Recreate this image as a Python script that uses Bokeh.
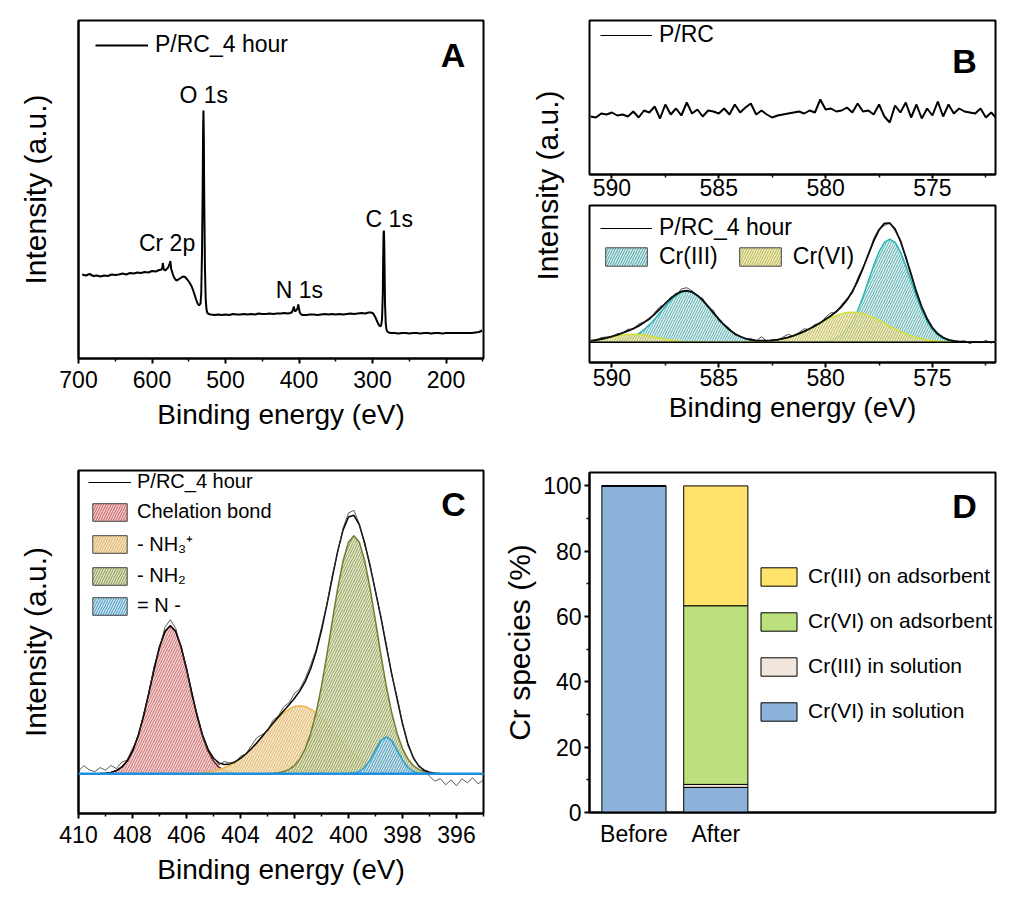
from math import pi
from bokeh.plotting import figure
from bokeh.models import (Range1d, Label, Legend, LegendItem, FixedTicker,
                          ColumnDataSource, Span, Spacer)
from bokeh.layouts import row, column
from bokeh.embed import file_html
from bokeh.resources import INLINE
from bokeh.core.properties import value

FONT = "Liberation Sans"
NAN = float("nan")

# ---------------- Panel A : survey spectrum ----------------
survey = [(695, 84), (690, 83), (685, 84.5), (680, 82.5), (675, 83), (670, 82), (665, 83), (660, 82.5),
          (655, 84), (650, 83.5), (645, 84), (640, 85), (635, 84), (630, 85.5), (625, 85), (620, 86),
          (615, 85.5), (610, 86.5), (605, 86), (600, 87.5), (595, 87), (590, 88.5), (587, 89), (586, 91),
          (585.3, 95.5), (584, 89), (582, 88), (580, 89.5), (578, 91), (576, 95), (575, 97.5), (574, 90),
          (572, 85), (570, 81), (567, 78), (564, 79), (561, 80.5), (558, 82), (555, 81.5), (552, 79),
          (549, 76), (546, 72), (543, 66), (540, 59), (538, 55), (536, 53), (534, 55), (533, 65),
          (532, 105), (531, 175), (530.5, 228), (530, 248), (529.5, 222), (529, 165), (528, 92), (527, 60),
          (526, 50), (525, 46), (523, 44.5), (520, 44), (515, 43.5), (510, 44), (505, 43.5), (500, 44),
          (495, 43.5), (490, 44.5), (485, 44), (480, 44), (475, 44.5), (470, 44), (465, 44.5), (460, 44),
          (455, 45), (450, 44.5), (445, 44.5), (440, 45), (435, 44.5), (430, 45), (425, 45), (420, 45.5),
          (415, 45), (412, 45.5), (410, 46), (408, 49), (407, 52), (406, 48), (405, 47), (404, 48),
          (402, 50), (401, 54), (400, 50), (399, 46), (397, 44), (395, 43.5), (390, 43.5), (385, 44),
          (380, 44), (375, 43.5), (370, 44), (365, 44.5), (360, 44), (355, 44.5), (350, 44), (345, 44.5),
          (340, 44), (335, 44.5), (330, 45), (325, 44.5), (320, 45), (315, 45.5), (310, 45), (305, 46),
          (302, 46), (299, 45), (296, 41), (293, 36), (291, 33), (289, 32), (288, 34), (287, 40),
          (286, 65), (285.5, 100), (285, 125), (284.5, 128), (284, 115), (283.5, 85), (283, 55), (282, 35),
          (281, 29), (280, 27), (278, 26), (275, 25.5), (270, 25.5), (265, 25), (260, 25.5), (255, 25.5),
          (250, 25), (245, 25.5), (240, 25.5), (235, 25), (230, 25.5), (225, 25.5), (220, 25), (215, 25.5),
          (210, 25.5), (205, 25), (200, 25.5), (195, 25.5), (190, 25.5), (185, 25.5), (180, 25.5),
          (175, 25.5), (170, 25.5), (165, 25.5), (160, 26), (155, 26.5), (151, 28)]
survey_be = [a for a, _ in survey]
survey_int = [b for _, b in survey]
survey_peak_names = ["Cr 2p", "O 1s", "N 1s", "C 1s"]
survey_peak_be = [579.5, 529.7, 399.5, 277.2]
survey_peak_int = [116, 264, 69, 140]
survey_ticks = [700, 600, 500, 400, 300, 200]
survey_minor = [650, 550, 450, 350, 250, 150]

# ---------------- Panel B : Cr 2p ----------------
cr_be = [591.00, 590.75, 590.50, 590.25, 590.00, 589.75, 589.50, 589.25, 589.00, 588.75, 588.50,
         588.25, 588.00, 587.75, 587.50, 587.25, 587.00, 586.75, 586.50, 586.25, 586.00, 585.75,
         585.50, 585.25, 585.00, 584.75, 584.50, 584.25, 584.00, 583.75, 583.50, 583.25, 583.00,
         582.75, 582.50, 582.25, 582.00, 581.75, 581.50, 581.25, 581.00, 580.75, 580.50, 580.25,
         580.00, 579.75, 579.50, 579.25, 579.00, 578.75, 578.50, 578.25, 578.00, 577.75, 577.50,
         577.25, 577.00, 576.75, 576.50, 576.25, 576.00, 575.75, 575.50, 575.25, 575.00, 574.75,
         574.50, 574.25, 574.00, 573.75, 573.50, 573.25, 573.00, 572.75, 572.50, 572.25, 572.00]
cr_prc = [58, 57, 61, 60, 62, 59, 60, 58, 63, 57, 64, 62, 68, 56, 70, 60, 66, 59, 72, 61,
          65, 58, 64, 63, 61, 66, 60, 70, 62, 67, 71, 60, 64, 60, 57, 59, 60, 61, 62, 63,
          61, 64, 62, 75, 65, 66, 63, 64, 67, 62, 71, 63, 64, 60, 70, 58, 52, 69, 62, 72,
          57, 70, 56, 66, 59, 73, 58, 70, 61, 66, 63, 62, 61, 66, 57, 62, 56]
cr_raw = [1.9, 1.2, 4.7, 5.2, 5.2, 8.6, 8.9, 13.1, 12.7, 18.3, 20.2, 22.3, 29.6, 35.6, 38.0, 44.9,
          46.6, 53.2, 54.5, 51.4, 46.3, 43.7, 34.8, 31.8, 21.4, 18.1, 13.9, 7.3, 6.3, 2.9, 3.8, 1.2,
          5.5, 1.0, 2.7, 1.6, 5.1, 7.8, 6.1, 9.7, 13.4, 12.6, 17.8, 18.4, 25.1, 29.4, 29.5, 37.7,
          43.8, 48.7, 64.1, 75.0, 86.4, 103.8, 113.3, 116.6, 119.6, 111.3, 102.8, 84.3, 69.6, 49.1,
          36.0, 24.7, 13.8, 9.4, 3.9, 3.0, -0.2, 1.0, 1.5, -1.5, 0.8, -0.5, 1.8, -0.9, 2.2]
cr_fit = [1.4, 2.2, 3.2, 4.4, 5.8, 7.4, 9.3, 11.3, 13.6, 16.3, 19.6, 23.5, 28.1, 33.4, 38.8, 43.9,
          48.1, 50.7, 51.5, 50.2, 46.8, 41.9, 35.8, 29.4, 23.0, 17.3, 12.4, 8.5, 5.7, 3.7, 2.4, 1.7,
          1.5, 1.6, 1.9, 2.6, 3.5, 4.8, 6.5, 8.5, 10.8, 13.4, 16.3, 19.4, 22.9, 26.4, 30.7, 35.7,
          42.3, 50.7, 61.3, 74.0, 87.9, 101.3, 112.3, 118.8, 119.1, 113.1, 101.2, 85.3, 67.6, 50.3,
          35.2, 23.2, 14.4, 8.4, 4.7, 2.4, 1.3, 0.6, 0.3, 0.1, 0, 0, 0, 0, 0]
cr_iii = [0, 0.1, 0.2, 0.4, 0.7, 1.2, 2.1, 3.5, 5.6, 8.5, 12.4, 17.3, 23.0, 29.4, 35.8, 41.8, 46.7,
          49.9, 51.0, 49.9, 46.7, 41.8, 35.8, 29.4, 23.0, 17.3, 12.4, 8.5, 5.6, 3.5, 2.1, 1.2, 0.7,
          0.4, 0.2, 0.1, 0, 0, 0, 0, 0, 0.1, 0.2, 0.4, 1.0, 1.9, 3.9, 7.2, 12.7, 20.7, 31.7, 45.5,
          61.1, 76.8, 90.4, 99.8, 103.0, 99.8, 90.4, 76.8, 61.1, 45.5, 31.7, 20.7, 12.7, 7.2, 3.9,
          1.9, 1.0, 0.4, 0.2, 0.1, 0, 0, 0, 0, 0]
cr_vi = [1.4, 2.1, 3.0, 4.0, 5.1, 6.2, 7.2, 7.8, 8.0, 7.8, 7.2, 6.2, 5.1, 4.0, 3.0, 2.1, 1.4, 0.8,
         0.5, 0.3, 0.1, 0.1, 0, 0, 0, 0, 0, 0, 0.1, 0.2, 0.3, 0.5, 0.8, 1.2, 1.7, 2.5, 3.5, 4.8,
         6.5, 8.5, 10.8, 13.3, 16.1, 19.0, 21.9, 24.5, 26.8, 28.5, 29.6, 30.0, 29.6, 28.5, 26.8,
         24.5, 21.9, 19.0, 16.1, 13.3, 10.8, 8.5, 6.5, 4.8, 3.5, 2.5, 1.7, 1.2, 0.8, 0.5, 0.3, 0.2,
         0.1, 0, 0, 0, 0, 0, 0]
cr_ticks = [590, 585, 580, 575]
cr_minor = [587.5, 582.5, 577.5, 572.5]

# ---------------- Panel C : N 1s ----------------
n_be = [410.0, 409.8, 409.6, 409.4, 409.2, 409.0, 408.8, 408.6, 408.4, 408.2, 408.0, 407.8, 407.6,
        407.4, 407.2, 407.0, 406.8, 406.6, 406.4, 406.2, 406.0, 405.8, 405.6, 405.4, 405.2, 405.0,
        404.8, 404.6, 404.4, 404.2, 404.0, 403.8, 403.6, 403.4, 403.2, 403.0, 402.8, 402.6, 402.4,
        402.2, 402.0, 401.8, 401.6, 401.4, 401.2, 401.0, 400.8, 400.6, 400.4, 400.2, 400.0, 399.8,
        399.6, 399.4, 399.2, 399.0, 398.8, 398.6, 398.4, 398.2, 398.0, 397.8, 397.6, 397.4, 397.2,
        397.0, 396.8, 396.6, 396.4, 396.2, 396.0, 395.8, 395.6, 395.4, 395.2, 395.0]
n_raw = [3, 8, 4, 2.1, 6.2, 3.6, 8.4, 5.2, 11.6, 13.7, 25.6, 35.2, 58.7, 79.1, 107.8, 124.9, 146.4,
         154.1, 145.5, 125.1, 106.1, 77.6, 59.5, 37.5, 22.5, 16.6, 8.9, 12.3, 10.9, 11.1, 17.5, 19.9,
         28.1, 35.9, 39.3, 42.8, 53.5, 57.8, 67.1, 71.1, 80.5, 84.9, 95.4, 109.1, 124.1, 146.5, 170.0,
         198.3, 221.7, 245.9, 260.8, 263.5, 250.1, 228.8, 209.6, 181.5, 157.4, 129.6, 99, 77, 51, 28,
         17, 7, 4.5, -2.5, -7.4, -4.8, -11, -6, -12, -5, -9, -4, -10, -6]
n_fit = [0, 0, 0, 0.1, 0.2, 0.6, 1.4, 3.2, 6.6, 12.7, 22.6, 37.2, 56.7, 80.1, 104.8, 126.9, 142.4,
         148.1, 142.5, 127.1, 105.1, 80.6, 57.5, 38.5, 24.5, 15.6, 10.9, 9.3, 9.9, 12.1, 15.5, 19.9,
         25.1, 30.9, 37.3, 43.8, 50.5, 56.8, 63.1, 69.1, 75.5, 82.9, 92.4, 105.1, 122.1, 143.5, 169.0,
         196.3, 222.7, 243.9, 256.8, 258.5, 249.1, 230.8, 207.6, 182.5, 156.4, 127.6, 100.0, 75.0,
         50.0, 30.0, 16.0, 8.0, 3.5, 1.5, 0.6, 0.2, 0.1, 0, 0, 0, 0, 0, 0, 0]
n_chel = [0, 0, 0, 0.1, 0.2, 0.6, 1.4, 3.2, 6.6, 12.7, 22.6, 37.2, 56.7, 80.1, 104.8, 126.9, 142.4,
          148, 142.4, 126.9, 104.8, 80.1, 56.7, 37.2, 22.6, 12.7, 6.6, 3.2, 1.4, 0.6, 0.2, 0.1,
          0, 0, 0, 0, 0, 0, 0, 0, 0, 0, 0, 0, 0, 0, 0, 0, 0, 0, 0, 0, 0, 0, 0, 0, 0, 0, 0, 0, 0, 0,
          0, 0, 0, 0, 0, 0, 0, 0, 0, 0, 0, 0, 0, 0]
n_nh3 = [0, 0, 0, 0, 0, 0, 0, 0, 0, 0, 0, 0, 0, 0, 0, 0, 0, 0.1, 0.1, 0.2, 0.3, 0.5, 0.8, 1.3, 1.9,
         2.9, 4.3, 6.1, 8.5, 11.5, 15.3, 19.8, 25.1, 30.9, 37.2, 43.6, 50.0, 55.8, 60.9, 64.7, 67.2,
         68, 67.2, 64.7, 60.9, 55.8, 50.0, 43.6, 37.2, 30.9, 25.1, 19.8, 15.3, 11.5, 8.5, 6.1, 4.3,
         2.9, 1.9, 1.3, 0.8, 0.5, 0.3, 0.2, 0.1, 0.1, 0, 0, 0, 0, 0, 0, 0, 0, 0, 0]
n_nh2 = [0, 0, 0, 0, 0, 0, 0, 0, 0, 0, 0, 0, 0, 0, 0, 0, 0, 0, 0, 0, 0, 0, 0, 0, 0, 0, 0, 0, 0, 0,
         0, 0, 0, 0, 0.1, 0.2, 0.5, 1.0, 2.2, 4.4, 8.3, 14.9, 25.2, 40.4, 61.2, 87.7, 119.0, 152.7,
         185.5, 213.0, 231.5, 238, 231.5, 213.0, 185.5, 152.7, 119.0, 87.7, 61.2, 40.4, 25.2, 14.9,
         8.3, 4.4, 2.2, 1.0, 0.5, 0.2, 0.1, 0, 0, 0, 0, 0, 0, 0]
n_imine = [0, 0, 0, 0, 0, 0, 0, 0, 0, 0, 0, 0, 0, 0, 0, 0, 0, 0, 0, 0, 0, 0, 0, 0, 0, 0, 0, 0, 0,
           0, 0, 0, 0, 0, 0, 0, 0, 0, 0, 0, 0, 0, 0, 0, 0, 0, 0, 0, 0, 0, 0.2, 0.7, 2.3, 6.3, 13.6,
           23.7, 33.1, 37, 33.1, 23.7, 13.6, 6.3, 2.3, 0.7, 0.2, 0, 0, 0, 0, 0, 0, 0, 0, 0, 0, 0]
n_ticks = [410, 408, 406, 404, 402, 400, 398, 396]
n_minor = [409, 407, 405, 403, 401, 399, 397, 395]
n_names = ["Chelation bond", "- NH\u2083\u207A", "- NH\u2082", "= N -"]

# ---------------- Panel D : Cr species ----------------
stage_pos = [1, 2]
stage_labels = ["Before", "After"]
vi_sol = [100, 7.7]
iii_sol = [0, 0.9]
vi_ads = [0, 54.7]
iii_ads = [0, 36.7]
species_keys = ["vi_sol", "iii_sol", "vi_ads", "iii_ads"]
species_names = ["Cr(VI) in solution", "Cr(III) in solution", "Cr(VI) on adsorbent", "Cr(III) on adsorbent"]
species_colors = ["#8db2da", "#f2e7dc", "#bde07f", "#ffe26a"]
pct_ticks = [0, 20, 40, 60, 80, 100]
pct_minor = [10, 30, 50, 70, 90]


def base_fig(w, h, xr, yr, left, right, top, bottom, **kw):
    p = figure(width=w, height=h, x_range=xr, y_range=yr, output_backend="svg",
               toolbar_location=None, min_border_left=left, min_border_right=right,
               min_border_top=top, min_border_bottom=bottom, **kw)
    p.outline_line_color = "black"
    p.outline_line_width = 2
    p.outline_line_alpha = 1
    p.grid.visible = False
    p.background_fill_color = "white"
    p.border_fill_color = "white"
    return p


def style_axis(ax, ticks, minor, standoff=7):
    ax.ticker = FixedTicker(ticks=ticks, minor_ticks=minor)
    ax.axis_line_width = 2
    ax.axis_line_color = "black"
    ax.major_tick_line_width = 2
    ax.major_tick_line_color = "black"
    ax.minor_tick_line_width = 1.5
    ax.minor_tick_line_color = "black"
    ax.major_tick_out = 5
    ax.major_tick_in = 0
    ax.minor_tick_out = 3
    ax.minor_tick_in = 0
    ax.major_label_standoff = standoff
    ax.major_label_text_font = FONT
    ax.major_label_text_font_size = "23px"
    ax.major_label_text_color = "black"
    ax.axis_label_text_font = FONT
    ax.axis_label_text_font_size = "28px"
    ax.axis_label_text_font_style = "normal"
    ax.axis_label_text_color = "black"


def add_letter(p, text, x, y):
    p.add_layout(Label(x=x, y=y, x_units="screen", y_units="screen", text=text,
                       text_font=FONT, text_font_size="34px", text_font_style="bold",
                       text_align="center", text_baseline="middle", text_color="black"))


def add_legend(p, items, loc, gw, gh, lh, spacing, fs, orientation="vertical", standoff=7):
    leg = Legend(items=items, location=loc, orientation=orientation, glyph_width=gw,
                 glyph_height=gh, label_standoff=standoff, padding=0, margin=0,
                 spacing=spacing, border_line_color=None, background_fill_alpha=0,
                 label_text_font=FONT, label_text_font_size=fs, label_height=lh,
                 label_text_color="black", label_text_baseline="middle")
    p.add_layout(leg)


def key_line(p, width):
    return p.line(x=[NAN], y=[NAN], line_color="black", line_width=width)


def swatch(p, fill, hatch):
    return p.quad(left=[NAN], right=[NAN], top=[NAN], bottom=[NAN], fill_color=fill, fill_alpha=1,
                  hatch_pattern="/", hatch_color=hatch, hatch_alpha=0.8, hatch_scale=5,
                  hatch_weight=1, line_color="#444444", line_width=1)


def y_label_only(ax, text, standoff):
    ax.ticker = FixedTicker(ticks=[])
    ax.axis_line_width = 2
    ax.major_tick_out = 0
    ax.minor_tick_out = 0
    ax.axis_label = text
    ax.axis_label_text_font = FONT
    ax.axis_label_text_font_size = "30px"
    ax.axis_label_text_font_style = "normal"
    ax.axis_label_text_color = "black"
    ax.axis_label_standoff = standoff


# ---------- Panel A ----------
pA = base_fig(492, 440, Range1d(700, 149), Range1d(0, 338), 70, 16, 12, 90)
pA.line(survey_be, survey_int, line_color="black", line_width=2)
pA.text(x=survey_peak_be, y=survey_peak_int, text=survey_peak_names, text_font=value(FONT),
        text_font_size="23px", text_align="center", text_baseline="middle", text_color="black")
style_axis(pA.xaxis[0], survey_ticks, survey_minor, 7)
pA.xaxis.axis_label = "Binding energy (eV)"
pA.xaxis.axis_label_standoff = 8
y_label_only(pA.yaxis[0], "Intensity (a.u.)", 27)
add_legend(pA, [LegendItem(label="P/RC_4 hour", renderers=[key_line(pA, 2)])],
           (17, 300), 53, 26, 26, 0, "23px")
add_letter(pA, "A", 374.5, 304)

# ---------- Panel C ----------
pC = base_fig(492, 444, Range1d(410, 395), Range1d(-39.7, 303.3), 69, 17, 22, 79)
c_fills = ["#f7caca", "#fbe5b8", "#e0e5bc", "#c6e9f6"]
c_hatch = ["#b04848", "#c9a263", "#6f7f3f", "#2f78a8"]
c_lines = ["#6e1f1f", "#f2b545", "#6f7d2f", "#27a0d8"]
for comp, f, h, lc in zip([n_chel, n_nh3, n_nh2, n_imine], c_fills, c_hatch, c_lines):
    pC.varea(x=n_be, y1=0, y2=comp, fill_color=f, fill_alpha=0.85, hatch_pattern="/",
             hatch_color=h, hatch_alpha=0.7, hatch_scale=5, hatch_weight=1)
    pC.line(n_be, comp, line_color=lc, line_width=1.5)
pC.add_layout(Span(location=0, dimension="width", line_color="#1e8fe0", line_width=2.5))
pC.line(n_be, n_fit, line_color="black", line_width=1.5)
pC.line(n_be, n_raw, line_color="#333333", line_width=0.8)
style_axis(pC.xaxis[0], n_ticks, n_minor, 7)
pC.xaxis.axis_label = "Binding energy (eV)"
pC.xaxis.axis_label_standoff = 8
y_label_only(pC.yaxis[0], "Intensity (a.u.)", 27)
itemsC = [LegendItem(label="P/RC_4 hour", renderers=[key_line(pC, 1)])]
for name, f, h in zip(n_names, c_fills, c_hatch):
    itemsC.append(LegendItem(label=name, renderers=[swatch(pC, f, h)]))
add_legend(pC, itemsC, (10, 196), 43, 22, 23, 7, "20px", standoff=6)
add_letter(pC, "C", 375, 310)

# ---------- Panel B label column ----------
pL = figure(width=88, height=424, x_range=Range1d(0, 1), y_range=Range1d(0, 1),
            x_axis_type=None, y_axis_type=None, output_backend="svg", toolbar_location=None,
            min_border_left=0, min_border_right=0, min_border_top=0, min_border_bottom=0)
pL.outline_line_color = None
pL.background_fill_color = "white"
pL.border_fill_color = "white"
pL.add_layout(Label(x=47, y=247, x_units="screen", y_units="screen", text="Intensity (a.u.)",
                    angle=pi / 2, text_align="center", text_baseline="middle",
                    text_font=FONT, text_font_size="30px", text_color="black"))

# ---------- Panel B top ----------
pBt = base_fig(416, 196, Range1d(591.05, 572.05), Range1d(0, 154), 1, 9, 12, 30, y_axis_type=None)
pBt.line(cr_be, cr_prc, line_color="black", line_width=2)
style_axis(pBt.xaxis[0], cr_ticks, cr_minor, 0)
pBt.xaxis.major_tick_out = 4
add_legend(pBt, [LegendItem(label="P/RC", renderers=[key_line(pBt, 1)])],
           (11, 126), 52, 26, 26, 0, "23px")
add_letter(pBt, "B", 375, 114)

# ---------- Panel B bottom ----------
pBb = base_fig(416, 228, Range1d(591.05, 572.05), Range1d(-20.3, 136.7), 1, 9, 1, 70, y_axis_type=None)
b_fills = ["#d6f1f1", "#f2efb8"]
b_hatch = ["#2b8a8a", "#a5a045"]
b_lines = ["#20b8b8", "#d4e03a"]
for comp, f, h, lc in zip([cr_iii, cr_vi], b_fills, b_hatch, b_lines):
    pBb.varea(x=cr_be, y1=0, y2=comp, fill_color=f, fill_alpha=0.8, hatch_pattern="/",
              hatch_color=h, hatch_alpha=0.7, hatch_scale=5, hatch_weight=1)
    pBb.line(cr_be, comp, line_color=lc, line_width=1.5)
pBb.add_layout(Span(location=0, dimension="width", line_color="black", line_width=1.5))
pBb.line(cr_be, cr_fit, line_color="black", line_width=1.8)
pBb.line(cr_be, cr_raw, line_color="#222222", line_width=0.8)
style_axis(pBb.xaxis[0], cr_ticks, cr_minor, 1)
pBb.xaxis.axis_label = "Binding energy (eV)"
pBb.xaxis.axis_label_standoff = 3
add_legend(pBb, [LegendItem(label="P/RC_4 hour", renderers=[key_line(pBb, 1)])],
           (11, 121), 52, 26, 26, 0, "23px")
sw3 = swatch(pBb, b_fills[0], b_hatch[0])
sw6 = swatch(pBb, b_fills[1], b_hatch[1])
add_legend(pBb, [LegendItem(label="Cr(III)", renderers=[sw3]), LegendItem(label="Cr(VI)", renderers=[sw6])],
           (11, 92), 52, 23, 26, 16, "23px", orientation="horizontal")

# ---------- Panel D ----------
pD = base_fig(504, 459, Range1d(0.457, 5.417), Range1d(0, 104.1), 89, 9, 40, 79)
srcD = ColumnDataSource(dict(x=stage_pos, vi_sol=vi_sol, iii_sol=iii_sol, vi_ads=vi_ads, iii_ads=iii_ads))
rsD = pD.vbar_stack(species_keys, x="x", width=0.784, fill_color=species_colors,
                    line_color="black", line_width=1, source=srcD)
style_axis(pD.yaxis[0], pct_ticks, pct_minor, 3)
pD.yaxis.axis_label = "Cr species (%)"
pD.yaxis.axis_label_text_font_size = "30px"
pD.yaxis.axis_label_standoff = 4
style_axis(pD.xaxis[0], stage_pos, [], 3)
pD.xaxis.major_label_overrides = dict(zip(stage_pos, stage_labels))
pD.xaxis.major_tick_line_color = None
itemsD = [LegendItem(label=n, renderers=[r]) for n, r in zip(species_names[::-1], rsD[::-1])]
add_legend(pD, itemsD, (167, 89), 45, 23, 23, 21, "21px", standoff=7)
add_letter(pD, "D", 375, 307)

body = row(column(pA, pC), column(row(pL, column(pBt, pBb)), pD))
layout = column(Spacer(height=8), row(Spacer(width=8), body))
open("out.html", "w").write(file_html(layout, INLINE))
